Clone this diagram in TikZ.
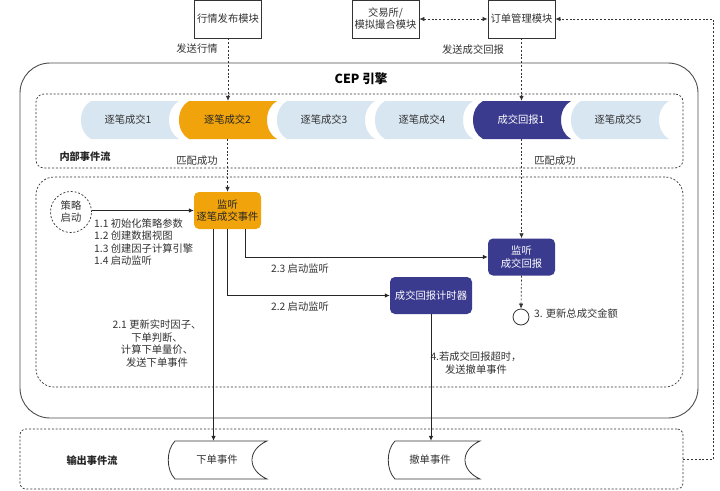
\documentclass[tikz,border=0pt]{standalone}
\usepackage{fontspec}
\setmainfont{Noto Sans CJK SC}
\usetikzlibrary{arrows.meta,calc}
\definecolor{lightc}{HTML}{D8E6F2}
\definecolor{orangec}{HTML}{F0A30A}
\definecolor{navyc}{HTML}{3A3A8E}
\definecolor{linec}{HTML}{333333}
\definecolor{txtc}{HTML}{333333}
\tikzset{
  box/.style={draw=linec, line width=0.8pt, fill=white, minimum width=67pt, minimum height=38pt, inner sep=1pt, align=center, font=\fontsize{10.3}{12.5}\selectfont, text=txtc},
  dsh/.style={draw=linec, line width=0.7pt, dash pattern=on 2pt off 1.8pt},
  arr/.style={-{Latex[length=5pt,width=4.5pt]}},
  darr/.style={{Latex[length=5pt,width=4.5pt]}-{Latex[length=5pt,width=4.5pt]}},
  lbl/.style={font=\fontsize{10.3}{12.4}\selectfont, text=txtc, inner sep=0pt, align=center},
  chevtxt/.style={minimum width=96pt, minimum height=38pt, inner sep=0pt, font=\fontsize{10.3}{12.4}\selectfont},
  evbox/.style={rounded corners=5pt, minimum width=67pt, minimum height=37pt, inner sep=1pt, align=center, font=\fontsize{10.3}{12.4}\selectfont},
  solid line/.style={draw=black!85, line width=0.8pt},
}
\newcommand{\chevshape}[2]{% center x, fill colour
  \fill[#2] (#1-37,101) -- (#1+51,101) .. controls (#1+37.7,108) and (#1+37.7,132) .. (#1+51,139)
    -- (#1-37,139) .. controls (#1-50.3,132) and (#1-50.3,108) .. (#1-37,101) -- cycle;}
\newcommand{\datashape}[3]{% left top x, right top x, right mid x
  \draw[line width=0.8pt, draw=black!80, fill=white] (#1,441) -- (#2,441) .. controls (#3-5,450) and (#3-5,470) .. (#2,479)
    -- (#1,479) .. controls (#1-9,470) and (#1-9,450) .. (#1,441) -- cycle;}
\begin{document}
\begin{tikzpicture}[x=1pt,y=-1pt]
\useasboundingbox (0,0) rectangle (720,490);
\fill[white] (0,0) rectangle (720,490);

% CEP engine frame
\draw[draw=black!70, line width=0.9pt, rounded corners=30pt] (20,63) rectangle (698,418);
\node[font=\bfseries\fontsize{12.5}{14}\selectfont, text=black] (cep) at (361,79) {CEP 引擎};

% containers
\node[dsh, rounded corners=8pt, minimum width=647pt, minimum height=74pt, inner sep=0pt] (inner) at (359.5,131) {};
\node[dsh, rounded corners=18pt, minimum width=647pt, minimum height=210pt, inner sep=0pt] (proc) at (359.5,282) {};
\node[dsh, rounded corners=6pt, minimum width=663pt, minimum height=60pt, inner sep=0pt] (outbox) at (351.5,459) {};

% chevrons
\chevshape{128}{lightc}
\chevshape{226}{orangec}
\chevshape{324}{lightc}
\chevshape{422}{lightc}
\chevshape{520}{navyc}
\chevshape{618}{lightc}
\node[chevtxt, text=txtc] (c1) at (128,120) {逐笔成交1};
\node[chevtxt, text=black!85] (c2) at (227.5,120) {逐笔成交2};
\node[chevtxt, text=txtc] (c3) at (324,120) {逐笔成交3};
\node[chevtxt, text=txtc] (c4) at (422,120) {逐笔成交4};
\node[chevtxt, text=white] (r1) at (521,120) {成交回报1};
\node[chevtxt, text=txtc] (c5) at (618,120) {逐笔成交5};

\node[font=\bfseries\fontsize{10.2}{12}\selectfont, text=black!85] (inlbl) at (85,157) {内部事件流};
\node[lbl] (m1) at (197,161) {匹配成功};
\node[lbl] (m2) at (555,161) {匹配成功};

% top modules
\node[box] (hq) at (228,19) {行情发布模块};
\node[box, font=\fontsize{10.3}{12}\selectfont] (jys) at (385.5,19) {交易所/\\模拟撮合模块};
\node[box] (dd) at (521.5,19) {订单管理模块};
\node[lbl] (l1) at (197,49) {发送行情};
\node[lbl] (l2) at (473,50) {发送成交回报};

\draw[dsh, arr] (hq.south) -- (hq.south |- c2.north);
\draw[dsh, arr] (dd.south) -- (dd.south |- r1.north);
\draw[dsh, darr] (jys.east) -- (dd.east -| dd.west);

% processing nodes
\node[circle, dsh, fill=white, minimum size=41pt, inner sep=0pt, align=center, font=\fontsize{10.3}{12}\selectfont, text=txtc] (st) at (71,212) {策略\\启动};
\node[evbox, fill=orangec, text=black!85] (ev) at (227.5,210.5) {监听\\逐笔成交事件};
\node[evbox, fill=navyc, text=white] (lr) at (521.5,257) {监听\\成交回报};
\node[evbox, fill=navyc, text=white, minimum width=82pt] (tm) at (431,295.5) {成交回报计时器};
\node[circle, draw=black!80, line width=0.8pt, minimum size=16pt, inner sep=0pt] (fin) at (521,317) {};

\draw[dsh, arr] (c2.south -| ev.north) -- (ev.north);
\draw[dsh, arr] (r1.south -| lr.north) -- (lr.north);
\draw[solid line, arr] (st.east |- ev.west) -- (ev.west);
\draw[solid line, arr] ([xshift=17.5pt]ev.south) |- (lr.west);
\draw[solid line, arr] (ev.south) |- (tm.west);
\draw[dsh, arr] (lr.south) -- (fin.north);

\node[lbl, align=left, anchor=north west] (s1) at (94,218.5) {1.1 初始化策略参数\\1.2 创建数据视图\\1.3 创建因子计算引擎\\1.4 启动监听};
\node[lbl] (s23) at (300,269) {2.3 启动监听};
\node[lbl] (s22) at (300,307) {2.2 启动监听};
\node[lbl] (s21) at (157,343.5) {2.1 更新实时因子、\\下单判断、\\计算下单量价、\\发送下单事件};
\node[lbl, anchor=west] (s3) at (534,314) {3. 更新总成交金额};
\node[lbl] (s4) at (476,363) {4.若成交回报超时，\\发送撤单事件};

% output events
\datashape{175}{267}{252}
\datashape{395}{480}{465}
\node[chevtxt, minimum width=80pt, text=txtc] (xd) at (217,460) {下单事件};
\node[chevtxt, minimum width=80pt, text=txtc] (cd) at (430,460) {撤单事件};
\node[font=\bfseries\fontsize{10.2}{12}\selectfont, text=black!85] (outlbl) at (92,461) {输出事件流};

\draw[solid line, arr] ([xshift=-14pt]ev.south) -- ([xshift=-14pt]ev.south |- xd.north);
\draw[solid line, arr] (tm.south) -- (tm.south |- cd.north);

% feedback
\draw[dsh, arr] (outbox.east) -- ++(30,0) |- (dd.east);
\end{tikzpicture}
\end{document}
